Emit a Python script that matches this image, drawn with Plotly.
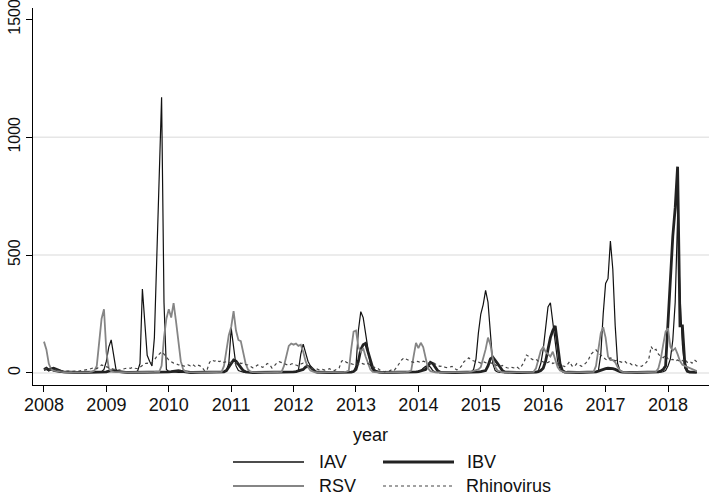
import plotly.graph_objects as go

# biweekly samples starting 2008.0 (26 per year)
start_year = 2008
per_year = 26

iav = (
    [12, 15, 10, 14, 8, 5, 3, 2, 2, 1, 1, 1, 1, 1, 1, 1, 1, 1, 1, 1, 1, 2, 2, 3, 5, 15] +
    [50, 110, 140, 70, 15, 5, 3, 2, 2, 2, 2, 3, 4, 8, 40, 356, 200, 75, 50, 30, 150, 500, 850, 1169, 300, 15] +
    [6, 4, 3, 3, 2, 2, 2, 2, 2, 2, 1, 1, 1, 1, 1, 1, 1, 1, 1, 1, 1, 2, 2, 3, 10, 40] +
    [190, 110, 30, 10, 5, 3, 2, 2, 2, 1, 1, 1, 1, 1, 1, 1, 1, 1, 1, 1, 1, 1, 2, 2, 2, 3] +
    [3, 4, 10, 80, 122, 90, 50, 30, 15, 6, 3, 2, 1, 1, 1, 1, 1, 1, 1, 1, 1, 2, 2, 3, 4, 6] +
    [30, 180, 260, 235, 170, 90, 35, 10, 4, 2, 1, 1, 1, 1, 1, 1, 1, 1, 1, 1, 1, 1, 2, 2, 3, 5] +
    [6, 10, 20, 28, 30, 25, 10, 4, 2, 1, 1, 1, 1, 1, 1, 1, 1, 1, 1, 1, 1, 2, 3, 15, 60, 170] +
    [250, 290, 350, 300, 150, 40, 10, 4, 2, 1, 1, 1, 1, 1, 1, 1, 1, 1, 1, 1, 1, 2, 2, 3, 10, 40] +
    [100, 200, 280, 298, 220, 120, 50, 15, 5, 2, 1, 1, 1, 1, 1, 1, 1, 1, 1, 1, 1, 2, 3, 10, 80, 250] +
    [380, 400, 560, 440, 200, 40, 10, 4, 2, 1, 1, 1, 1, 1, 1, 1, 1, 1, 1, 1, 1, 1, 2, 3, 5, 10] +
    [30, 60, 140, 300, 660, 330, 120, 20, 5, 3, 2, 2, 2]
)

ibv = (
    [15, 20, 12, 18, 20, 15, 10, 8, 5, 4, 3, 2, 2, 2, 2, 2, 2, 2, 2, 2, 2, 2, 3, 3, 3, 4] +
    [5, 8, 10, 10, 8, 6, 4, 3, 3, 2, 2, 2, 2, 2, 2, 2, 2, 2, 2, 2, 3, 3, 3, 3, 3, 4] +
    [5, 6, 8, 10, 10, 8, 6, 4, 3, 2, 2, 2, 2, 2, 2, 2, 2, 2, 2, 2, 2, 3, 3, 5, 10, 25] +
    [45, 55, 50, 35, 20, 10, 5, 3, 2, 2, 2, 2, 2, 2, 2, 2, 2, 2, 2, 2, 2, 2, 3, 3, 4, 5] +
    [5, 6, 8, 10, 15, 25, 28, 25, 15, 6, 3, 2, 2, 2, 2, 2, 2, 2, 2, 2, 2, 2, 3, 3, 4, 6] +
    [15, 50, 100, 120, 126, 90, 50, 20, 8, 4, 3, 2, 2, 2, 2, 2, 2, 2, 2, 2, 2, 2, 3, 3, 4, 5] +
    [6, 8, 10, 15, 30, 45, 40, 25, 10, 4, 3, 2, 2, 2, 2, 2, 2, 2, 2, 2, 2, 2, 3, 3, 4, 5] +
    [6, 8, 10, 30, 60, 67, 55, 40, 25, 10, 4, 3, 2, 2, 2, 2, 2, 2, 2, 2, 2, 2, 3, 4, 6, 10] +
    [20, 50, 100, 150, 180, 200, 120, 40, 10, 4, 3, 2, 2, 2, 2, 2, 2, 2, 2, 2, 2, 3, 5, 8, 12, 15] +
    [18, 20, 20, 18, 15, 10, 6, 4, 3, 2, 2, 2, 2, 2, 2, 2, 2, 2, 2, 2, 2, 3, 5, 8, 15, 30] +
    [200, 420, 580, 700, 875, 200, 200, 40, 8, 4, 3, 3, 3]
)

rsv = (
    [133, 100, 40, 15, 10, 8, 6, 5, 4, 3, 3, 2, 2, 2, 2, 2, 2, 2, 3, 4, 6, 10, 30, 130, 230, 270] +
    [90, 20, 8, 5, 4, 3, 3, 2, 2, 2, 2, 2, 2, 2, 2, 2, 2, 3, 3, 4, 5, 6, 5, 30, 150, 230] +
    [270, 235, 296, 220, 120, 50, 15, 6, 4, 3, 2, 2, 2, 2, 2, 2, 2, 2, 3, 3, 4, 5, 5, 30, 100, 160] +
    [195, 262, 180, 140, 135, 90, 40, 15, 6, 4, 3, 2, 2, 2, 2, 2, 2, 2, 3, 3, 4, 5, 30, 80, 115, 125] +
    [120, 125, 115, 120, 90, 50, 25, 10, 5, 3, 2, 2, 2, 2, 2, 2, 2, 2, 3, 3, 4, 5, 6, 10, 100, 175] +
    [180, 110, 90, 105, 70, 40, 15, 5, 3, 2, 2, 2, 2, 2, 2, 2, 2, 2, 3, 3, 4, 5, 6, 10, 70, 128] +
    [105, 128, 110, 60, 20, 8, 4, 3, 2, 2, 2, 2, 2, 2, 2, 2, 2, 2, 3, 3, 4, 5, 6, 8, 10, 15] +
    [25, 60, 100, 150, 120, 60, 25, 10, 5, 3, 2, 2, 2, 2, 2, 2, 2, 2, 3, 3, 4, 5, 5, 20, 60, 95] +
    [110, 90, 80, 70, 90, 60, 25, 10, 5, 3, 2, 2, 2, 2, 2, 2, 2, 2, 3, 3, 4, 5, 30, 100, 170, 194] +
    [150, 70, 55, 55, 45, 25, 10, 5, 3, 2, 2, 2, 2, 2, 2, 2, 2, 2, 3, 3, 4, 5, 20, 60, 120, 175] +
    [190, 110, 95, 105, 80, 50, 35, 30, 25, 20, 15, 12, 8]
)

rhino = (
    [14, 18, 12, 20, 16, 12, 10, 9, 8, 7, 8, 6, 7, 8, 6, 9, 10, 12, 14, 16, 20, 22, 18, 26, 34, 30] +
    [26, 22, 18, 16, 14, 12, 14, 16, 20, 22, 20, 24, 20, 18, 24, 34, 40, 42, 38, 45, 55, 70, 82, 90, 80, 65] +
    [55, 48, 42, 40, 34, 36, 30, 28, 34, 30, 36, 28, 34, 30, 22, 8, 15, 45, 55, 50, 55, 48, 52, 45, 48, 44] +
    [45, 40, 42, 48, 40, 42, 36, 34, 28, 22, 26, 34, 30, 24, 28, 40, 36, 21, 30, 42, 48, 44, 40, 36, 32, 38] +
    [40, 34, 30, 38, 42, 36, 30, 24, 18, 20, 16, 12, 15, 12, 14, 18, 12, 10, 16, 22, 50, 55, 45, 42, 40, 36] +
    [40, 36, 42, 38, 35, 40, 32, 28, 22, 20, 12, 8, 5, 10, 8, 15, 12, 25, 40, 55, 64, 58, 52, 48, 45, 50] +
    [48, 44, 50, 46, 42, 40, 45, 38, 32, 28, 30, 25, 22, 25, 28, 20, 13, 18, 30, 48, 58, 64, 55, 50, 48, 46] +
    [42, 48, 45, 40, 44, 38, 35, 30, 28, 32, 25, 22, 20, 24, 21, 26, 18, 30, 45, 76, 70, 60, 55, 58, 50, 52] +
    [48, 42, 45, 50, 40, 45, 38, 35, 30, 27, 35, 48, 30, 27, 40, 34, 28, 35, 45, 60, 80, 90, 98, 85, 75, 65] +
    [58, 55, 64, 60, 52, 55, 48, 45, 50, 40, 42, 35, 38, 30, 32, 28, 35, 45, 60, 112, 95, 100, 80, 70, 65, 75] +
    [60, 55, 58, 50, 55, 48, 52, 60, 45, 50, 42, 55, 48]
)

year_ticks = list(range(2008, 2019))
y_ticks = [0, 500, 1000, 1500]
grid_values = [0, 500, 1000]

n = min(len(iav), len(ibv), len(rsv), len(rhino))
t = [start_year + i / per_year for i in range(n)]

FONT = "Liberation Sans, Arial, Helvetica, sans-serif"

styles = {
    "IAV": dict(color="#111111", width=1.2),
    "IBV": dict(color="#222222", width=2.8),
    "RSV": dict(color="#858585", width=1.8),
    "Rhinovirus": dict(color="#444444", width=1.2, dash="dot"),
}

fig = go.Figure()
for name, vals in [("IAV", iav), ("IBV", ibv), ("RSV", rsv), ("Rhinovirus", rhino)]:
    fig.add_trace(go.Scatter(x=t, y=vals[:n], mode="lines", name=name, line=styles[name]))

L, R, T, B = 33, 0, 8, 111
W, H = 709, 496
pw, ph = W - L - R, H - T - B

def px(xp):
    return (xp - L) / pw

def py(yp):
    return (H - B - yp) / ph

shapes = []
annotations = []

# horizontal grid lines (none at the top tick, as in the reference)
for gv in grid_values:
    shapes.append(dict(type="line", xref="paper", yref="y", x0=0, x1=1, y0=gv, y1=gv,
                       layer="below", line=dict(color="#e6e6e6", width=1.5)))

legend_items = [
    ("IAV", dict(color="#111111", width=1.5), 233, 304, 317, 462),
    ("IBV", dict(color="#222222", width=3), 383, 454, 465, 462),
    ("RSV", dict(color="#858585", width=2), 233, 304, 317, 486),
    ("Rhinovirus", dict(color="#444444", width=1.2, dash="dot"), 383, 454, 464, 486),
]
for name, ln, x0, x1, xt, yy in legend_items:
    shapes.append(dict(type="line", xref="paper", yref="paper",
                       x0=px(x0), x1=px(x1), y0=py(yy), y1=py(yy), line=ln))
    annotations.append(dict(text=name, xref="paper", yref="paper", x=px(xt), y=py(yy),
                            xanchor="left", yanchor="middle", showarrow=False,
                            font=dict(size=18, color="#111", family=FONT)))
annotations.append(dict(text="year", xref="paper", yref="paper", x=px(370), y=py(435),
                        xanchor="center", yanchor="middle", showarrow=False,
                        font=dict(size=18, color="#111", family=FONT)))

fig.update_layout(
    width=W, height=H,
    margin=dict(l=L, r=R, t=T, b=B),
    paper_bgcolor="white", plot_bgcolor="white",
    showlegend=False,
    font=dict(family=FONT, color="#111"),
    shapes=shapes, annotations=annotations,
    xaxis=dict(range=[2007.824, 2018.657], tickvals=year_ticks,
               ticktext=[str(y) for y in year_ticks],
               showgrid=False, zeroline=False, showline=True, linecolor="black",
               linewidth=1.2, ticks="outside", ticklen=6, tickcolor="black",
               ticklabeloverflow="allow", ticklabelstandoff=-3,
               tickfont=dict(size=18, color="#111")),
    yaxis=dict(range=[-51, 1548], tickvals=y_ticks,
               ticktext=[str(v) for v in y_ticks], tickangle=-90,
               showgrid=False,
               zeroline=False, showline=True, linecolor="black", linewidth=1.2,
               ticks="outside", ticklen=6, tickcolor="black",
               ticklabeloverflow="allow",
               tickfont=dict(size=16, color="#111")),
)

fig.write_html("out.html", config={"displayModeBar": False})

# remove the default page margin so the figure sits at the window's corner
with open("out.html", "r", encoding="utf-8") as f:
    html = f.read()
html = html.replace("<body>", '<body style="margin:0;padding:0;overflow:hidden">', 1)
with open("out.html", "w", encoding="utf-8") as f:
    f.write(html)
